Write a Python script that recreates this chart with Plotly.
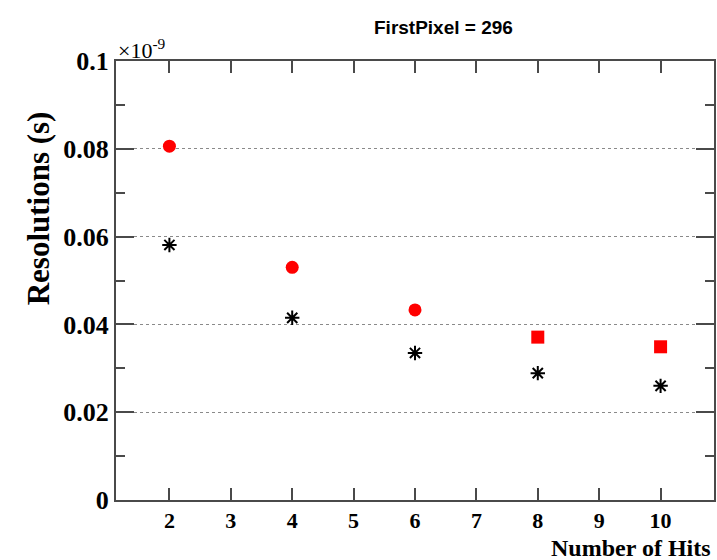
import plotly.graph_objects as go

# Number of hits and measured time resolutions (units of 1e-9 s)
hits = [2, 4, 6, 8, 10]
res_red = [0.0806, 0.0530, 0.0433, 0.0371, 0.0349]
res_black = [0.0581, 0.0415, 0.0335, 0.0289, 0.0260]
red_symbols = ["circle", "circle", "circle", "square", "square"]

x_ticks = [2, 3, 4, 5, 6, 7, 8, 9, 10]
y_ticks = [0, 0.02, 0.04, 0.06, 0.08, 0.1]
y_ticktext = ["0", "0.02", "0.04", "0.06", "0.08", "0.1"]

serif = "Liberation Serif"
axis_col = "#4a4a4a"

fig = go.Figure()
fig.add_trace(go.Scatter(
    x=hits, y=res_red, mode="markers",
    marker=dict(color="#ff0000", size=13, symbol=red_symbols, line=dict(width=0)),
    showlegend=False,
))
fig.add_trace(go.Scatter(
    x=hits, y=res_black, mode="markers",
    marker=dict(color="black", size=12, symbol="asterisk-open",
                line=dict(color="black", width=2)),
    showlegend=False,
))

fig.update_layout(
    width=717, height=560,
    margin=dict(l=116, r=1, t=61, b=60),
    paper_bgcolor="white", plot_bgcolor="white",
    xaxis=dict(
        range=[1.13, 10.87],
        tickvals=x_ticks, ticktext=[str(v) for v in x_ticks],
        ticks="inside", ticklen=12, tickwidth=2, tickcolor=axis_col,
        showline=True, linecolor=axis_col, linewidth=2, mirror="ticks",
        showgrid=False, zeroline=False,
        tickfont=dict(family=serif, size=22, color="black", weight="bold"),
    ),
    yaxis=dict(
        range=[0, 0.1],
        tickvals=y_ticks, ticktext=y_ticktext,
        ticks="inside", ticklen=18, tickwidth=2, tickcolor=axis_col,
        minor=dict(ticks="inside", dtick=0.01, tick0=0, ticklen=9,
                   tickwidth=2, tickcolor=axis_col, showgrid=False),
        showline=True, linecolor=axis_col, linewidth=2, mirror="ticks",
        showgrid=True, gridcolor="#8a8a8a", gridwidth=1, griddash="dot",
        zeroline=False,
        tickfont=dict(family=serif, size=26, color="black", weight="bold"),
    ),
    annotations=[
        dict(text="FirstPixel = 296", xref="paper", yref="paper",
             x=0.547, y=1.077, showarrow=False, xanchor="center", yanchor="middle",
             font=dict(family="Liberation Sans", size=19, color="black", weight="bold")),
        dict(text="×10<sup>-9</sup>", xref="paper", yref="paper",
             x=0.0, y=1.028, showarrow=False, xanchor="left", yanchor="middle",
             font=dict(family=serif, size=22, color="black")),
        dict(text="Resolutions (s)", xref="paper", yref="paper",
             x=-0.13, y=0.665, showarrow=False, textangle=-90,
             xanchor="center", yanchor="middle",
             font=dict(family=serif, size=31, color="black", weight="bold")),
        dict(text="Number of Hits", xref="paper", yref="paper",
             x=0.998, y=-0.11, showarrow=False, xanchor="right", yanchor="middle",
             font=dict(family=serif, size=24, color="black", weight="bold")),
    ],
)

fig.write_html("out.html")
